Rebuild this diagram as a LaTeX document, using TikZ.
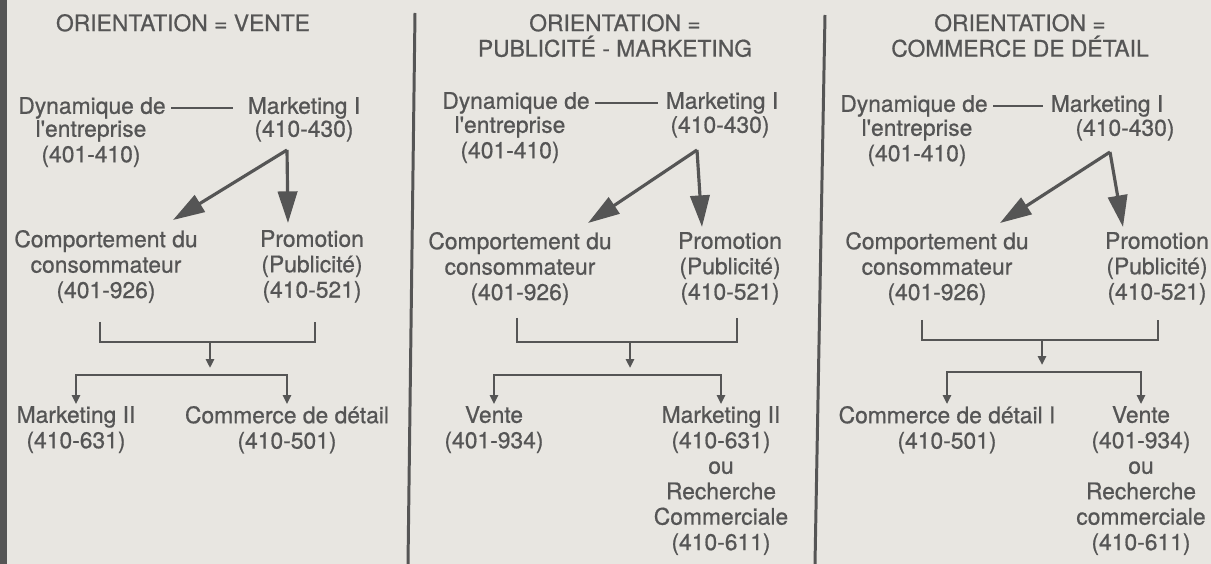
\documentclass[tikz,border=0pt]{standalone}
\usepackage{fontspec}
\setmainfont{TeX Gyre Heros}
\newfontfamily\inkfont{TeX Gyre Heros}[FakeBold=0.7]
\usetikzlibrary{arrows.meta}
\definecolor{ink}{HTML}{555555}
\definecolor{paper}{HTML}{E8E6E1}

\begin{document}
\begin{tikzpicture}[x=0.02cm, y=-0.02cm,
        lbl/.style={anchor=north, align=center, inner sep=1pt, text=ink, font=\inkfont\fontsize{13}{14.5}\selectfont},
        link/.style={draw=ink, line width=1.2pt, shorten <=2pt, shorten >=3pt},
        bigarrow/.style={draw=ink, line width=1.8pt, -{Triangle[length=18pt, width=11pt]}},
        smallarrow/.style={draw=ink, line width=1.5pt, -{Triangle[length=5pt, width=4.5pt]}},
        bracket/.style={draw=ink, line width=1.5pt}]
        % Page
        \fill[paper] (0,0) rectangle (1211,564);
        \useasboundingbox (0,0) rectangle (1211,564);
        \fill[ink] (0,0) rectangle (7,564);
        \draw[ink, line width=1.7pt] (415,13) -- (408,564);
        \draw[ink, line width=1.7pt] (825,15) -- (815,564);

        % Nodes -- vente
        \node[lbl] (title1) at (183,12) {ORIENTATION = VENTE};
        \node[lbl] (dyn1) at (92,95) {Dynamique de};
        \node[lbl] (dyn1sub) at (91,118) {l'entreprise\\(401-410)};
        \node[lbl] (mkt1) at (304,95) {Marketing I};
        \node[lbl] (mkt1sub) at (304,118) {(410-430)};
        \node[lbl] (comp1) at (106,228) {Comportement du\\consommateur\\(401-926)};
        \node[lbl] (promo1) at (312,228) {Promotion\\(Publicité)\\(410-521)};
        \node[lbl] (mkII1) at (76,404) {Marketing II\\(410-631)};
        \node[lbl] (cdd1) at (287,404) {Commerce de détail\\(410-501)};
        \coordinate (apex1) at (287,150);
        \coordinate (tipc1) at (173,220);
        \coordinate (tipp1) at (288,223);
        \coordinate (bl1) at (100,322);
        \coordinate (br1) at (315,322);
        \coordinate (bm1) at (210,342);
        \coordinate (fork1) at (210,375);

        % Nodes -- publicite
        \node[lbl] (title2) at (615,12) {ORIENTATION =\\PUBLICITÉ - MARKETING};
        \node[lbl] (dyn2) at (516,90) {Dynamique de};
        \node[lbl] (dyn2sub) at (510,114) {l'entreprise\\(401-410)};
        \node[lbl] (mkt2) at (722,90) {Marketing I};
        \node[lbl] (mkt2sub) at (720,114) {(410-430)};
        \node[lbl] (comp2) at (520,230) {Comportement du\\consommateur\\(401-926)};
        \node[lbl] (promo2) at (730,230) {Promotion\\(Publicité)\\(410-521)};
        \node[lbl] (vente2) at (494,404) {Vente\\(401-934)};
        \node[lbl] (mkII2) at (721,404) {Marketing II\\(410-631)\\ou\\Recherche\\Commerciale\\(410-611)};
        \coordinate (apex2) at (697,150);
        \coordinate (tipc2) at (588,223);
        \coordinate (tipp2) at (702,227);
        \coordinate (bl2) at (517,318);
        \coordinate (br2) at (737,318);
        \coordinate (bm2) at (630,342);
        \coordinate (fork2) at (630,375);

        % Nodes -- commerce de detail
        \node[lbl] (title3) at (1020,12) {ORIENTATION =\\COMMERCE DE DÉTAIL};
        \node[lbl] (dyn3) at (914,93) {Dynamique de};
        \node[lbl] (dyn3sub) at (917,117) {l'entreprise\\(401-410)};
        \node[lbl] (mkt3) at (1107,93) {Marketing I};
        \node[lbl] (mkt3sub) at (1125,117) {(410-430)};
        \node[lbl] (comp3) at (937,230) {Comportement du\\consommateur\\(401-926)};
        \node[lbl] (promo3) at (1157,230) {Promotion\\(Publicité)\\(410-521)};
        \node[lbl] (cdd3) at (947,404) {Commerce de détail I\\(410-501)};
        \node[lbl] (vente3) at (1141,404) {Vente\\(401-934)\\ou\\Recherche\\commerciale\\(410-611)};
        \coordinate (apex3) at (1110,152);
        \coordinate (tipc3) at (1000,223);
        \coordinate (tipp3) at (1123,227);
        \coordinate (bl3) at (922,320);
        \coordinate (br3) at (1158,320);
        \coordinate (bm3) at (1042,340);
        \coordinate (fork3) at (1042,372);

        % Lines
        \draw[link, shorten >=7pt] (dyn1) -- (mkt1);
        \draw[link] (dyn2) -- (mkt2);
        \draw[link] (dyn3) -- (mkt3);

        \draw[bigarrow] (apex1) -- (tipc1);
        \draw[bigarrow] (apex1) -- (tipp1);
        \draw[bigarrow] (apex2) -- (tipc2);
        \draw[bigarrow] (apex2) -- (tipp2);
        \draw[bigarrow] (apex3) -- (tipc3);
        \draw[bigarrow] (apex3) -- (tipp3);

        \draw[bracket] (bl1) |- (bm1) -| (br1);
        \draw[bracket] (bl2) |- (bm2) -| (br2);
        \draw[bracket] (bl3) |- (bm3) -| (br3);

        \draw[smallarrow, shorten >=4pt] (bm1) -- (fork1);
        \draw[smallarrow, shorten >=4pt] (bm2) -- (fork2);
        \draw[smallarrow, shorten >=4pt] (bm3) -- (fork3);

        \draw[smallarrow] (fork1) -| (mkII1.north);
        \draw[smallarrow] (fork1) -| (cdd1.north);
        \draw[smallarrow] (fork2) -| (vente2.north);
        \draw[smallarrow] (fork2) -| (mkII2.north);
        \draw[smallarrow] (fork3) -| (cdd3.north);
        \draw[smallarrow] (fork3) -| (vente3.north);
    \end{tikzpicture}
\end{document}
